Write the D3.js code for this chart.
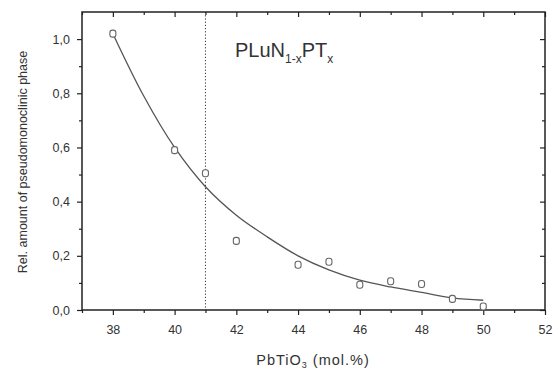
<!DOCTYPE html>
<html>
<head>
<meta charset="utf-8">
<script src="https://cdn.jsdelivr.net/npm/d3@7"></script>
<style>
  body { margin: 0; background: #fff; }
  text { font-family: "Liberation Sans", Arial, sans-serif; fill: #333; }
</style>
</head>
<body>
<div id="chart"></div>
<script>
var svgWidth = 559;
var svgHeight = 371;

// measured points
var pbTiO3 = [38, 40, 41, 42, 44, 45, 46, 47, 48, 49, 50];
var amount = [1.02, 0.59, 0.505, 0.255, 0.167, 0.178, 0.093, 0.106, 0.096, 0.041, 0.013];

// fitted curve
var fitX = [38, 39, 40, 41, 42, 43, 44, 45, 46, 47, 48, 49, 50];
var fitY = [1.02, 0.79, 0.6, 0.455, 0.35, 0.27, 0.2, 0.148, 0.11, 0.085, 0.065, 0.045, 0.036];

var xMajor = [38, 40, 42, 44, 46, 48, 50, 52];
var xMinor = [37, 39, 41, 43, 45, 47, 49, 51];
var yMajor = [0, 0.2, 0.4, 0.6, 0.8, 1.0];
var yMinor = [0.1, 0.3, 0.5, 0.7, 0.9];
var boundaryX = 41;

var svg = d3.select("#chart").append("svg").attr("width", svgWidth).attr("height", svgHeight);

var x = d3.scaleLinear().domain([37, 52]).range([82, 545]);
var y = d3.scaleLinear().domain([0, 1.1]).range([310, 12]);

var comma = function(d) { return d3.format(".1f")(d).replace(".", ","); };

function styleAxis(g) {
  g.select(".domain").remove();
  g.selectAll("line").attr("stroke", "#222").attr("stroke-width", 1.2);
  g.selectAll("text").attr("font-size", 12.5).attr("fill", "#555");
}

// bottom axis
svg.append("g").attr("transform", "translate(0,310)")
  .call(d3.axisBottom(x).tickValues(xMajor).tickSize(5).tickFormat(d3.format("d")).tickPadding(10))
  .call(styleAxis);
svg.append("g").attr("transform", "translate(0,310)")
  .call(d3.axisBottom(x).tickValues(xMinor).tickSize(3).tickFormat(""))
  .call(styleAxis);

// top axis, ticks inward
svg.append("g").attr("transform", "translate(0,12)")
  .call(d3.axisTop(x).tickValues(xMajor).tickSize(-5).tickFormat(""))
  .call(styleAxis);
svg.append("g").attr("transform", "translate(0,12)")
  .call(d3.axisTop(x).tickValues(xMinor).tickSize(-3).tickFormat(""))
  .call(styleAxis);

// left axis
svg.append("g").attr("transform", "translate(82,0)")
  .call(d3.axisLeft(y).tickValues(yMajor).tickSize(5).tickFormat(comma).tickPadding(7))
  .call(styleAxis);
svg.append("g").attr("transform", "translate(82,0)")
  .call(d3.axisLeft(y).tickValues(yMinor).tickSize(3).tickFormat(""))
  .call(styleAxis);

// right axis, ticks inward
svg.append("g").attr("transform", "translate(545,0)")
  .call(d3.axisRight(y).tickValues(yMajor).tickSize(-5).tickFormat(""))
  .call(styleAxis);
svg.append("g").attr("transform", "translate(545,0)")
  .call(d3.axisRight(y).tickValues(yMinor).tickSize(-3).tickFormat(""))
  .call(styleAxis);

// frame
svg.append("rect")
  .attr("x", x(37)).attr("y", y(1.1))
  .attr("width", x(52) - x(37)).attr("height", y(0) - y(1.1))
  .attr("fill", "none").attr("stroke", "#222").attr("stroke-width", 1.5);

// dotted boundary
svg.append("line")
  .attr("x1", x(boundaryX)).attr("x2", x(boundaryX))
  .attr("y1", y(1.1)).attr("y2", y(0))
  .attr("stroke", "#333").attr("stroke-width", 1)
  .attr("stroke-dasharray", "1.2,2");

// fit curve
var line = d3.line().x(function(d, i) { return x(fitX[i]); }).y(function(d) { return y(d); })
  .curve(d3.curveCatmullRom.alpha(0.5));
svg.append("path").datum(fitY)
  .attr("d", line)
  .attr("fill", "none").attr("stroke", "#555").attr("stroke-width", 1.3);

// data markers
svg.selectAll(".pt").data(amount).enter().append("rect")
  .attr("class", "pt")
  .attr("x", function(d, i) { return x(pbTiO3[i]) - 3; })
  .attr("y", function(d) { return y(d) - 3.5; })
  .attr("width", 6).attr("height", 7).attr("rx", 2.5)
  .attr("fill", "#fff").attr("stroke", "#666").attr("stroke-width", 1.1);

// annotation
var ann = svg.append("text").attr("x", 235).attr("y", 57).attr("font-size", 20).attr("fill", "#333");
ann.append("tspan").text("PLuN");
ann.append("tspan").attr("font-size", 12).attr("dy", 6).text("1-x");
ann.append("tspan").attr("dy", -6).text("PT");
ann.append("tspan").attr("font-size", 12).attr("dy", 6).text("x");

// axis titles
var xt = svg.append("text").attr("x", 313).attr("y", 365).attr("text-anchor", "middle")
  .attr("font-size", 14.5).attr("letter-spacing", 1).attr("fill", "#444");
xt.append("tspan").text("PbTiO");
xt.append("tspan").attr("font-size", 9).attr("dy", 3).text("3");
xt.append("tspan").attr("dy", -3).text(" (mol.%)");

svg.append("text")
  .attr("transform", "translate(27,162) rotate(-90)")
  .attr("text-anchor", "middle").attr("font-size", 12.5).attr("fill", "#555")
  .text("Rel. amount of pseudomonoclinic phase");
</script>
</body>
</html>
